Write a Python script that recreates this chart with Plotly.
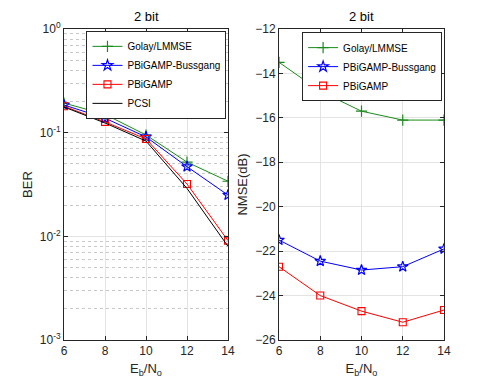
import plotly.graph_objects as go

# ---------------------------------------------------------------------------
# Dados
# ---------------------------------------------------------------------------

ebno = [6, 8, 10, 12, 14]

ber_golay = [0.193, 0.150, 0.095, 0.052, 0.034]
ber_bussgang = [0.185, 0.138, 0.091, 0.047, 0.025]
ber_pbigamp = [0.180, 0.127, 0.087, 0.032, 0.0091]
ber_pcsi = [0.177, 0.124, 0.083, 0.029, 0.0080]

nmse_golay = [-13.5, -14.8, -15.7, -16.1, -16.1]
nmse_bussgang = [-21.5, -22.45, -22.85, -22.7, -21.9]
nmse_pbigamp = [-22.7, -24.0, -24.7, -25.2, -24.65]

ber_tickvals = [1e-3, 1e-2, 1e-1, 1e0]
ber_ticktext = ["10<sup>-3</sup>", "10<sup>-2</sup>", "10<sup>-1</sup>", "10<sup>0</sup>"]
ber_minorvals = [m * d for d in (1e-3, 1e-2, 1e-1) for m in range(2, 10)]

GREEN = "#1a8c1a"
BLUE = "#0000ff"
RED = "#ff0000"
BLACK = "#000000"

FONT = "Liberation Sans, Arial, sans-serif"

MK_CROSS = dict(symbol="cross-thin", size=8, line=dict(color=GREEN, width=1.2))
MK_STAR = dict(symbol="star-open", size=8, color=BLUE, line=dict(color=BLUE, width=1.2))
MK_SQUARE = dict(symbol="square-open", size=7, color=RED, line=dict(color=RED, width=1.1))

fig = go.Figure()

# ---------------------------------------------------------------------------
# BER (esquerda)
# ---------------------------------------------------------------------------

fig.add_trace(go.Scatter(
    x=ebno, y=ber_golay, name="Golay/LMMSE", mode="lines+markers",
    line=dict(color=GREEN, width=1), marker=MK_CROSS,
    xaxis="x", yaxis="y", legend="legend",
))
fig.add_trace(go.Scatter(
    x=ebno, y=ber_bussgang, name="PBiGAMP-Bussgang", mode="lines+markers",
    line=dict(color=BLUE, width=1), marker=MK_STAR,
    xaxis="x", yaxis="y", legend="legend",
))
fig.add_trace(go.Scatter(
    x=ebno, y=ber_pbigamp, name="PBiGAMP", mode="lines+markers",
    line=dict(color=RED, width=1), marker=MK_SQUARE,
    xaxis="x", yaxis="y", legend="legend",
))
fig.add_trace(go.Scatter(
    x=ebno, y=ber_pcsi, name="PCSI", mode="lines",
    line=dict(color=BLACK, width=1),
    xaxis="x", yaxis="y", legend="legend",
))

# ---------------------------------------------------------------------------
# NMSE (direita)
# ---------------------------------------------------------------------------

fig.add_trace(go.Scatter(
    x=ebno, y=nmse_golay, name="Golay/LMMSE", mode="lines+markers",
    line=dict(color=GREEN, width=1), marker=MK_CROSS,
    xaxis="x2", yaxis="y2", legend="legend2",
))
fig.add_trace(go.Scatter(
    x=ebno, y=nmse_bussgang, name="PBiGAMP-Bussgang", mode="lines+markers",
    line=dict(color=BLUE, width=1), marker=MK_STAR,
    xaxis="x2", yaxis="y2", legend="legend2",
))
fig.add_trace(go.Scatter(
    x=ebno, y=nmse_pbigamp, name="PBiGAMP", mode="lines+markers",
    line=dict(color=RED, width=1), marker=MK_SQUARE,
    xaxis="x2", yaxis="y2", legend="legend2",
))

axis_common = dict(
    showline=True, linecolor="#262626", linewidth=1, mirror="ticks",
    ticks="inside", ticklen=4, tickcolor="#262626",
    showgrid=True, gridcolor="#e3e3e3", gridwidth=1,
    zeroline=False, automargin=False,
    tickfont=dict(family=FONT, size=12, color="#262626"),
)

legend_common = dict(
    bgcolor="white", bordercolor="#262626", borderwidth=1,
    font=dict(family=FONT, size=10, color="black"),
    xanchor="right", yanchor="top",
    tracegroupgap=0, itemwidth=30,
)

# a página tem 8px de margem no body: compensado nas margens
fig.update_layout(
    width=491, height=382,
    margin=dict(l=56, r=55, t=21, b=50),
    plot_bgcolor="white",
    paper_bgcolor="white",
    font=dict(family=FONT, size=12, color="#262626"),
    xaxis=dict(
        domain=[0, 0.4316], range=[6, 14], tickvals=ebno,
        title=dict(text="E<sub>b</sub>/N<sub>o</sub>", standoff=6,
                   font=dict(family=FONT, size=13)),
        anchor="y", **axis_common,
    ),
    yaxis=dict(
        type="log", range=[-3, 0], tickvals=ber_tickvals, ticktext=ber_ticktext,
        title=dict(text="BER", standoff=4, font=dict(family=FONT, size=13)),
        minor=dict(tickvals=ber_minorvals, showgrid=True, gridcolor="#c8c8c8",
                   griddash="dot", gridwidth=1, ticks=""),
        anchor="x", **axis_common,
    ),
    xaxis2=dict(
        domain=[0.5658, 1], range=[6, 14], tickvals=ebno,
        title=dict(text="E<sub>b</sub>/N<sub>o</sub>", standoff=6,
                   font=dict(family=FONT, size=13)),
        anchor="y2", **axis_common,
    ),
    yaxis2=dict(
        range=[-26, -12], dtick=2,
        title=dict(text="NMSE(dB)", standoff=4, font=dict(family=FONT, size=13)),
        anchor="x2", **axis_common,
    ),
    legend=dict(x=0.4316 - 0.004, y=0.994, **legend_common),
    legend2=dict(x=0.995, y=0.99, **legend_common),
    annotations=[
        dict(text="2 bit", x=0.2158, y=1.0, xref="paper", yref="paper",
             xanchor="center", yanchor="bottom", yshift=3, showarrow=False,
             font=dict(family=FONT, size=13, color="black")),
        dict(text="2 bit", x=0.7829, y=1.0, xref="paper", yref="paper",
             xanchor="center", yanchor="bottom", yshift=3, showarrow=False,
             font=dict(family=FONT, size=13, color="black")),
    ],
)

fig.write_html("out.html")
